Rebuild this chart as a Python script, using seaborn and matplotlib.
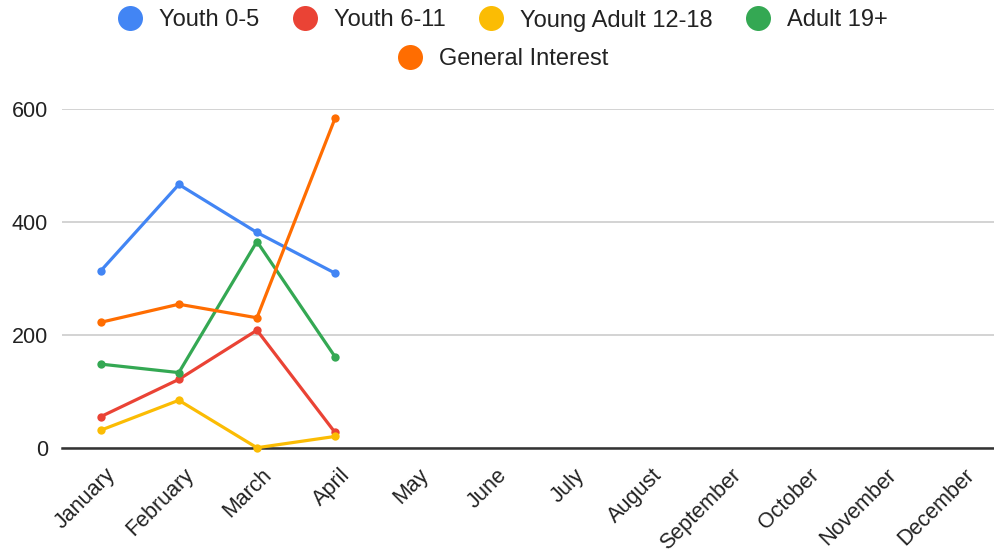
import matplotlib
matplotlib.use("Agg")
import matplotlib.pyplot as plt
from matplotlib.lines import Line2D
from matplotlib.transforms import ScaledTranslation
import seaborn as sns
import pandas as pd

months = ["January", "February", "March", "April", "May", "June", "July",
          "August", "September", "October", "November", "December"]
series_names = ["Youth 0-5", "Youth 6-11", "Young Adult 12-18", "Adult 19+",
                "General Interest"]
youth_0_5 = [314, 467, 382, 310]
youth_6_11 = [56, 122, 209, 28]
young_adult_12_18 = [32, 85, 1, 21]
adult_19_plus = [149, 134, 366, 162]
general_interest = [223, 255, 231, 584]
colors = ["#4285F4", "#EA4335", "#FBBC04", "#34A853", "#FF6D01"]
y_ticks = [0, 200, 400, 600]

values = [youth_0_5, youth_6_11, young_adult_12_18, adult_19_plus, general_interest]
rows = []
for name, vals in zip(series_names, values):
    for i, v in enumerate(vals):
        rows.append({"month_idx": i, "month": months[i], "series": name, "count": v})
df = pd.DataFrame(rows)

sns.set_theme(style="white")
plt.rcParams["font.family"] = ["Liberation Sans", "DejaVu Sans"]

fig = plt.figure(figsize=(9.95, 5.57), dpi=100)
ax = fig.add_axes([62 / 995, 1 - 448.3 / 557, (995 - 62) / 995, (448.3 - 109.3) / 557])

palette = dict(zip(series_names, colors))
sns.lineplot(data=df, x="month_idx", y="count", hue="series", hue_order=series_names,
             palette=palette, marker="o", markersize=6, markeredgewidth=0,
             linewidth=2.3, sort=False, legend=False, ax=ax, clip_on=False, zorder=3)

ax.set_xlim(-0.496, 11.45)
ax.set_ylim(0, 600)
ax.set_yticks(y_ticks)
ax.set_yticklabels([str(t) for t in y_ticks], fontsize=15.5, color="#222222")
ax.set_xticks(range(len(months)))
ax.set_xticklabels(months, fontsize=15.5, color="#222222", rotation=45,
                   ha="right", va="center", rotation_mode="anchor")
ax.tick_params(axis="y", length=0, pad=10)
ax.tick_params(axis="x", length=0, pad=12)
# nudge the slanted month labels so their ends sit just right of each tick
shift = ScaledTranslation(12 / 100, -7 / 100, fig.dpi_scale_trans)
for lbl in ax.get_xticklabels():
    lbl.set_transform(lbl.get_transform() + shift)
ax.set_xlabel("")
ax.set_ylabel("")

ax.grid(axis="y", color="#cccccc", linewidth=1.2)
ax.grid(axis="x", visible=False)
for side in ["left", "right", "top"]:
    ax.spines[side].set_visible(False)
ax.spines["bottom"].set_color("#333333")
ax.spines["bottom"].set_linewidth(1.8)
ax.set_axisbelow(True)

def handle(c):
    return Line2D([], [], linestyle="none", marker="o", markersize=18,
                  markerfacecolor=c, markeredgewidth=0)

legend_kw = dict(frameon=False, fontsize=17, handlelength=1.1, handletextpad=0.7,
                 columnspacing=1.35, borderaxespad=0, borderpad=0,
                 labelcolor="#222222")
leg1 = fig.legend([handle(c) for c in colors[:4]], series_names[:4], ncol=4,
                  loc="center", bbox_to_anchor=(0.505, 1 - 20.5 / 557), **legend_kw)
leg2 = fig.legend([handle(colors[4])], series_names[4:], ncol=1,
                  loc="center", bbox_to_anchor=(0.505, 1 - 59 / 557), **legend_kw)

fig.savefig("out.png", dpi=100)
